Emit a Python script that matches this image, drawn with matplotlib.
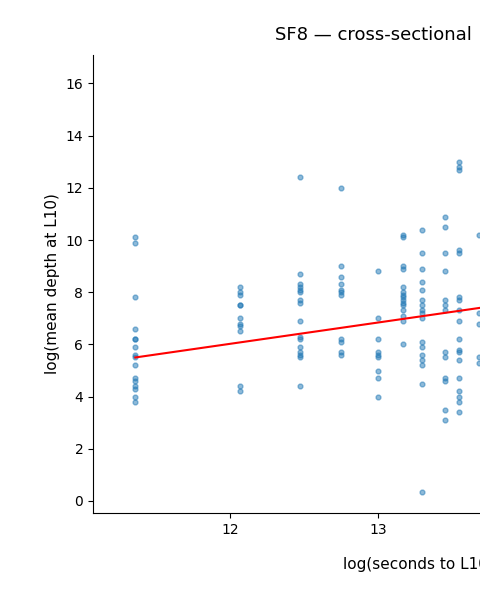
import matplotlib
matplotlib.use("Agg")
import matplotlib.pyplot as plt
import numpy as np

# columns of points: x position and the y values
col_x = [11.36, 12.07, 12.47, 12.75, 13.0, 13.17, 13.3, 13.45, 13.55, 13.68]
col_y = [
    [10.1, 9.9, 7.8, 6.6, 6.2, 6.2, 5.9, 5.6, 5.5, 5.2, 4.7, 4.6, 4.4, 4.3, 4.0, 3.8],
    [8.2, 8.0, 7.9, 7.5, 7.5, 7.0, 6.8, 6.7, 6.5, 4.4, 4.2],
    [12.4, 8.7, 8.3, 8.2, 8.1, 8.0, 7.7, 7.6, 6.9, 6.3, 6.2, 5.9, 5.7, 5.6, 5.5, 4.4],
    [12.0, 9.0, 8.6, 8.3, 8.1, 8.0, 7.9, 6.2, 6.1, 5.7, 5.6],
    [8.8, 7.0, 6.2, 5.7, 5.6, 5.5, 5.0, 4.7, 4.0],
    [10.2, 10.1, 9.0, 8.9, 8.2, 8.0, 7.9, 7.8, 7.7, 7.6, 7.5, 7.3, 7.1, 6.9, 6.0],
    [10.4, 9.5, 8.9, 8.4, 8.1, 7.7, 7.5, 7.3, 7.2, 7.0, 6.1, 5.9, 5.6, 5.4, 5.2, 4.5, 0.35],
    [10.9, 10.5, 9.5, 8.8, 7.7, 7.5, 7.3, 5.7, 5.5, 4.7, 4.6, 3.5, 3.1],
    [13.0, 12.8, 12.7, 9.6, 9.5, 7.8, 7.7, 7.3, 6.9, 6.2, 5.8, 5.7, 5.4, 4.7, 4.2, 4.0, 3.8, 3.4],
    [10.2, 7.2, 6.8, 5.5, 5.3],
]
fit_x = [11.36, 14.3]
fit_y = [5.5, 7.9]

xs = np.concatenate([[x] * len(ys) for x, ys in zip(col_x, col_y)])
ys = np.concatenate(col_y)

fig = plt.figure(figsize=(4.8, 6), dpi=100)
ax = fig.add_axes([93 / 480, 87 / 600, 1.0, 458 / 600])
ax.scatter(xs, ys, s=12, color="#1f77b4", alpha=0.5)
ax.plot(fit_x, fit_y, color="red", linewidth=1.5)
ax.set_xlim(11.074, 11.074 + 480 / 148)
ax.set_ylim(-0.46, 17.09)
ax.set_xticks([12, 13, 14])
ax.set_yticks(range(0, 17, 2))
ax.set_ylabel("log(mean depth at L10)", fontsize=11)
ax.spines["top"].set_visible(False)
ax.spines["right"].set_visible(False)

fig.text(275 / 480, 1 - 35 / 600, "SF8 — cross-sectional", fontsize=13,
         ha="left", va="center")
fig.text(343 / 480, 1 - 565 / 600, "log(seconds to L10)", fontsize=11,
         ha="left", va="center")

fig.savefig("out.png", dpi=100)
